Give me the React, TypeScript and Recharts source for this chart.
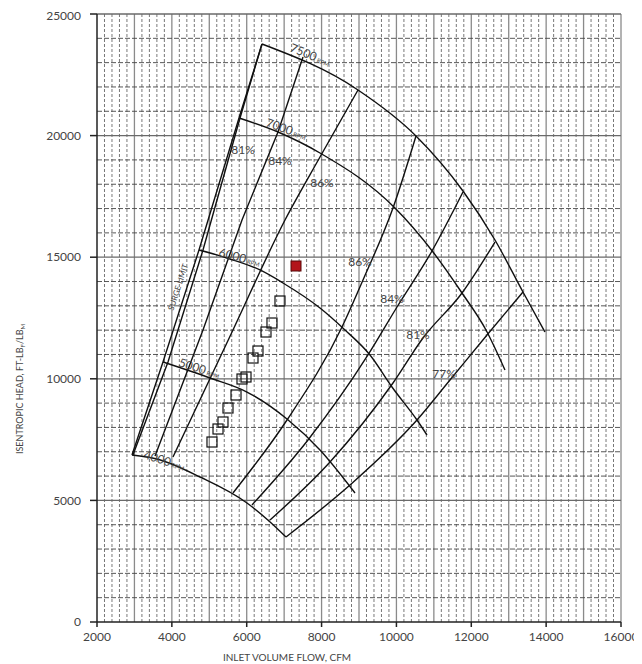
import { ComposedChart, Line, Scatter, XAxis, YAxis, ReferenceLine } from 'recharts';

// speed lines (CFM, head)
const rpm7500 = [
  { x: 6408, y: 23766 }, { x: 8973, y: 21875 }, { x: 10523, y: 19984 }, { x: 11778, y: 17722 },
  { x: 12633, y: 15707 }, { x: 13381, y: 13569 }, { x: 13969, y: 11924 },
];
const rpm7000 = [
  { x: 5794, y: 20724 }, { x: 6836, y: 20148 }, { x: 7958, y: 19285 }, { x: 9961, y: 17023 },
  { x: 10977, y: 15214 }, { x: 11752, y: 13528 }, { x: 12393, y: 12007 }, { x: 12900, y: 10362 },
];
const rpm6000 = [
  { x: 4725, y: 15296 }, { x: 5553, y: 14926 }, { x: 6355, y: 14474 }, { x: 6969, y: 13939 },
  { x: 7958, y: 12911 }, { x: 8626, y: 12007 }, { x: 9294, y: 10979 }, { x: 9881, y: 9663 },
  { x: 10549, y: 8306 }, { x: 10816, y: 7689 },
];
const rpm5000 = [
  { x: 3763, y: 10691 }, { x: 5019, y: 10033 }, { x: 6007, y: 9457 }, { x: 7076, y: 8347 },
  { x: 7958, y: 7072 }, { x: 8893, y: 5304 },
];
const rpm4000 = [
  { x: 2935, y: 6867 }, { x: 3603, y: 6702 }, { x: 4752, y: 5962 }, { x: 6007, y: 4893 },
  { x: 6595, y: 4153 }, { x: 7049, y: 3495 },
];

// surge limit and efficiency lines
const surge = [
  { x: 2935, y: 6867 }, { x: 3763, y: 10691 }, { x: 4725, y: 15296 }, { x: 5794, y: 20724 }, { x: 6408, y: 23766 },
];
const eff81Left = [
  { x: 2960, y: 6867 }, { x: 3897, y: 10691 }, { x: 4832, y: 15296 }, { x: 5821, y: 20724 }, { x: 6408, y: 23766 },
];
const eff84Left = [
  { x: 3550, y: 6826 }, { x: 4832, y: 12007 }, { x: 5874, y: 16530 }, { x: 6836, y: 20148 }, { x: 7504, y: 23232 },
];
const eff86Left = [
  { x: 4030, y: 6785 }, { x: 5633, y: 12007 }, { x: 7023, y: 16530 }, { x: 7958, y: 19120 }, { x: 8973, y: 21875 },
];
const eff86Right = [
  { x: 5633, y: 5304 }, { x: 7076, y: 8306 }, { x: 8546, y: 12130 }, { x: 9107, y: 14062 },
  { x: 9908, y: 17023 }, { x: 10523, y: 19984 },
];
const eff84Right = [
  { x: 6141, y: 4811 }, { x: 7637, y: 7484 }, { x: 9240, y: 10979 }, { x: 10015, y: 12952 },
  { x: 10950, y: 15255 }, { x: 11778, y: 17681 },
];
const eff81Right = [
  { x: 6622, y: 4194 }, { x: 8225, y: 6579 }, { x: 9908, y: 9827 }, { x: 10710, y: 11678 },
  { x: 11752, y: 13528 }, { x: 12633, y: 15625 },
];
const eff77 = [
  { x: 7049, y: 3495 }, { x: 8759, y: 5633 }, { x: 10549, y: 8306 }, { x: 11431, y: 9951 },
  { x: 12420, y: 11801 }, { x: 13381, y: 13569 },
];

// test points
const testPoints = [
  { x: 5072, y: 7401 }, { x: 5233, y: 7936 }, { x: 5366, y: 8224 }, { x: 5500, y: 8799 },
  { x: 5714, y: 9334 }, { x: 5874, y: 9992 }, { x: 5981, y: 10074 }, { x: 6168, y: 10855 },
  { x: 6301, y: 11143 }, { x: 6515, y: 11924 }, { x: 6675, y: 12294 }, { x: 6889, y: 13199 },
];
const designPoint = [{ x: 7317, y: 14638 }];

const rpmLabels = [
  { x: 7130, y: 23479, text: '7500', angle: 22 },
  { x: 6488, y: 20395, text: '7000', angle: 20 },
  { x: 5233, y: 15049, text: '6000', angle: 15 },
  { x: 4164, y: 10526, text: '5000', angle: 18 },
  { x: 3229, y: 6743, text: '4000', angle: 18 },
];
const effLabels = [
  { x: 5901, y: 19408, text: '81%' },
  { x: 6889, y: 18956, text: '84%' },
  { x: 8011, y: 18092, text: '86%' },
  { x: 9026, y: 14803, text: '86%' },
  { x: 9881, y: 13322, text: '84%' },
  { x: 10576, y: 11801, text: '81%' },
  { x: 11271, y: 10238, text: '77%' },
];
const surgeLabel = [{ x: 4164, y: 13775, text: 'SURGE LIMIT' }];

const xTicks = [2000, 4000, 6000, 8000, 10000, 12000, 14000, 16000];
const yTicks = [0, 5000, 10000, 15000, 20000, 25000];

const FONT = 'Lato, "Open Sans", sans-serif';

const vGrid: number[] = [];
for (let v = 2200; v <= 16000; v += 200) vGrid.push(v);
const hGrid: number[] = [];
for (let v = 1000; v <= 25000; v += 1000) hGrid.push(v);

const curves = [
  { data: rpm7500, type: 'monotone' },
  { data: rpm7000, type: 'monotone' },
  { data: rpm6000, type: 'monotone' },
  { data: rpm5000, type: 'monotone' },
  { data: rpm4000, type: 'monotone' },
  { data: surge, type: 'linear' },
  { data: eff81Left, type: 'linear' },
  { data: eff84Left, type: 'linear' },
  { data: eff86Left, type: 'monotone' },
  { data: eff86Right, type: 'monotone' },
  { data: eff84Right, type: 'monotone' },
  { data: eff81Right, type: 'monotone' },
  { data: eff77, type: 'monotone' },
];

const OpenSquare = (p: any) => (
  <rect x={p.cx - 5} y={p.cy - 5} width={10} height={10} fill="none" stroke="#111" strokeWidth={1.2} />
);
const RedSquare = (p: any) => (
  <rect x={p.cx - 5} y={p.cy - 5} width={10} height={10} fill="#b3151b" stroke="#5a0a0a" strokeWidth={1} />
);
const RpmText = (p: any) => (
  <text
    x={p.cx}
    y={p.cy}
    transform={`rotate(${p.payload.angle} ${p.cx} ${p.cy})`}
    fontFamily={FONT}
    fontSize={12}
    fill="#444"
  >
    {p.payload.text}
    <tspan fontSize={6}> RPM</tspan>
  </text>
);
const EffText = (p: any) => (
  <text x={p.cx} y={p.cy} textAnchor="middle" dominantBaseline="central" fontFamily={FONT} fontSize={12} fill="#444">
    {p.payload.text}
  </text>
);
const SurgeText = (p: any) => (
  <text
    x={p.cx}
    y={p.cy}
    textAnchor="middle"
    dominantBaseline="central"
    transform={`rotate(-72 ${p.cx} ${p.cy})`}
    fontFamily={FONT}
    fontSize={8}
    fill="#444"
  >
    {p.payload.text}
  </text>
);

export default function App() {
  return (
    <div style={{ width: 634, height: 656, background: '#fff' }}>
      <ComposedChart width={634} height={656} margin={{ top: 6, right: 21, bottom: 0, left: 0 }}>
        {vGrid.map((v) =>
          v % 1000 === 0 ? (
            <ReferenceLine key={'v' + v} x={v} stroke="#8a8a8a" strokeWidth={1.3} />
          ) : (
            <ReferenceLine key={'v' + v} x={v} stroke="#555" strokeWidth={0.8} strokeDasharray="3 2" />
          )
        )}
        {hGrid.map((v) =>
          v % 5000 === 0 ? (
            <ReferenceLine key={'h' + v} y={v} stroke="#6a6a6a" strokeWidth={1.3} />
          ) : (
            <ReferenceLine key={'h' + v} y={v} stroke="#444" strokeWidth={0.9} strokeDasharray="5 2" />
          )
        )}
        <XAxis
          type="number"
          dataKey="x"
          domain={[2000, 16000]}
          ticks={xTicks}
          allowDataOverflow
          height={42}
          tickSize={5}
          tickMargin={5}
          stroke="#222"
          strokeWidth={1.5}
          tick={{ fill: '#444', fontSize: 12, fontFamily: FONT }}
          label={{
            content: () => (
              <text x={279} y={653} textAnchor="middle" fontFamily={FONT} fontSize={10} fill="#444">
                INLET VOLUME FLOW, CFM
              </text>
            ),
          }}
        />
        <YAxis
          type="number"
          dataKey="y"
          domain={[0, 25000]}
          ticks={yTicks}
          allowDataOverflow
          width={89}
          tickSize={7}
          tickMargin={9}
          stroke="#222"
          strokeWidth={1.5}
          tick={{ fill: '#444', fontSize: 12, fontFamily: FONT }}
          label={{
            content: () => (
              <text
                transform="translate(15 381) rotate(-90)"
                textAnchor="middle"
                fontFamily={FONT}
                fontSize={9}
                fill="#444"
              >
                ISENTROPIC HEAD, FT-LB
                <tspan fontSize={6} dy={2}>F</tspan>
                <tspan dy={-2}>/LB</tspan>
                <tspan fontSize={6} dy={2}>M</tspan>
              </text>
            ),
          }}
        />
        {curves.map((c, i) => (
          <Line
            key={'c' + i}
            data={c.data}
            dataKey="y"
            type={c.type as any}
            stroke="#111"
            strokeWidth={1.4}
            dot={false}
            activeDot={false}
            isAnimationActive={false}
          />
        ))}
        <Scatter data={testPoints} dataKey="y" shape={OpenSquare} isAnimationActive={false} />
        <Scatter data={designPoint} dataKey="y" shape={RedSquare} isAnimationActive={false} />
        <Scatter data={rpmLabels} dataKey="y" shape={RpmText} isAnimationActive={false} />
        <Scatter data={effLabels} dataKey="y" shape={EffText} isAnimationActive={false} />
        <Scatter data={surgeLabel} dataKey="y" shape={SurgeText} isAnimationActive={false} />
      </ComposedChart>
    </div>
  );
}
